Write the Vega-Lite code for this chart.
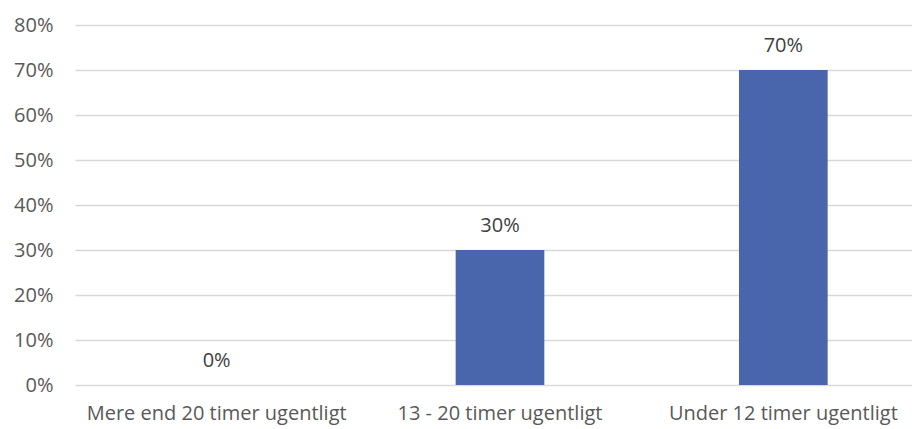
{
  "$schema": "https://vega.github.io/schema/vega-lite/v6.json",
  "autosize": {"type": "none"},
  "padding": {"left": 75, "top": 25, "right": 0, "bottom": 44},
  "width": 850,
  "height": 360,
  "background": "white",
  "config": {"view": {"stroke": null}, "font": "Open Sans"},
  "data": {"values": [
    {"kategori": "Mere end 20 timer ugentligt", "andel": 0},
    {"kategori": "13 - 20 timer ugentligt", "andel": 0.3},
    {"kategori": "Under 12 timer ugentligt", "andel": 0.7}
  ]},
  "encoding": {
    "x": {"field": "kategori", "type": "nominal", "sort": null,
      "scale": {"paddingInner": 0.687, "paddingOuter": 0.3435},
      "axis": {"title": null, "labelAngle": 0, "domain": false, "ticks": false, "labelPadding": 28, "labelFontSize": 20, "labelColor": "#595959", "labelLimit": 0, "labelOverlap": false, "labelBaseline": "middle"}},
    "y": {"field": "andel", "type": "quantitative",
      "scale": {"domain": [0, 0.8]},
      "axis": {"title": null, "format": ".0%", "values": [0,0.1,0.2,0.3,0.4,0.5,0.6,0.7,0.8], "domain": false, "ticks": false, "labelPadding": 22, "labelFontSize": 20, "labelColor": "#595959", "labelOverlap": false, "gridColor": "#d9d9d9", "gridWidth": 1.3}}
  },
  "layer": [
    {"mark": {"type": "bar", "color": "#4966ad"}},
    {"mark": {"type": "text", "dy": -24, "fontSize": 20, "color": "#404040", "baseline": "middle"},
     "encoding": {"text": {"field": "andel", "type": "quantitative", "format": ".0%"}}}
  ]
}
